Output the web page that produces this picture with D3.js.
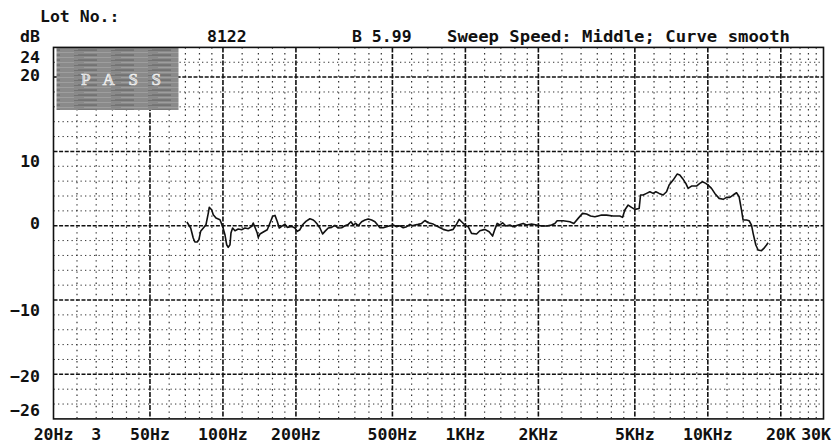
<!DOCTYPE html>
<html>
<head>
<meta charset="utf-8">
<script src="https://cdn.jsdelivr.net/npm/d3@7/dist/d3.min.js"></script>
<style>
  html, body { margin: 0; padding: 0; background: #fff; }
  svg { display: block; }
  text { font-family: "DejaVu Sans Mono", "Liberation Mono", monospace; font-weight: bold; fill: #111; }
</style>
</head>
<body>
<svg id="chart" width="834" height="443"></svg>
<script>
// ---------- data ----------
const freqHz = [71,73.6,75.4,76.6,78.3,79.6,80.9,83,85.1,87,87.8,89.8,91.2,93.6,97.2,99.7,101.9,103.6,105.1,106.9,107.9,109.6,112.1,115.6,119.4,123.2,127.2,131.3,133.3,135.9,138.5,139.8,142.1,146.7,152.3,156.3,160.3,163.9,167.5,170.7,174.6,180.2,184.1,192,198.1,202.5,207.7,213.1,219.9,228.4,234.4,239.6,244.8,251.2,257.7,263.4,271.8,280.7,289.6,298.8,308.7,318.5,328.6,337.2,344.6,352.6,361.4,373.3,385.2,397.4,410.5,423.6,434.6,444.2,458.2,473.2,488.3,503.8,520.4,537,554.1,572.3,590.5,603.5,619.1,638.8,659.9,680.8,702.5,736.6,772.4,809.9,849.2,890.6,919.7,942.7,964.4,995.2,1027,1060,1112,1148,1203,1253,1295,1323,1353,1388,1424,1469,1526,1574,1651,1731,1788,1875,1966,2062,2162,2267,2339,2390,2531,2697,2802,2918,3043,3161,3283,3420,3529,3645,3821,4068,4336,4448,4547,4692,4845,5000,5209,5278,5411,5588,5766,5949,6103,6297,6540,6756,6924,7192,7470,7663,7862,8114,8293,8566,8982,9268,9508,9810,10028,10356,10686,11133,11564,11943,12323,12716,13132,13460,13770,13981,14442,14803,15144,15376,15774,16123,16651,17020,17458,17727];
const levelDb = [0.5,-0.31,-1.66,-2.2,-2.2,-1.88,-0.76,-0.31,0.13,1.7,2.47,2.15,1.48,1.03,0.81,-0.09,-1.21,-2.56,-2.91,-2.56,-0.99,-0.31,-0.67,-0.45,-0.54,-0.31,-0.4,-0.09,0.36,-0.31,-0.99,-1.57,-1.12,-0.85,-0.54,0.36,1.26,1.39,0.58,-0.31,-0.09,0.22,-0.22,-0.09,-0.31,-0.76,-0.54,0.13,0.58,0.94,0.81,0.58,0.22,-0.31,-1.12,-0.76,-0.31,-0.22,0.04,-0.31,-0.27,0,0.18,0.54,0.09,0.31,0,0.54,0.76,0.9,0.76,0.54,0.09,-0.27,-0.27,-0.13,0,0.09,-0.13,0,-0.27,-0.13,0.18,0,0.09,0.18,0.31,0.7,0.4,0.22,-0.13,-0.49,-0.67,-0.49,0.22,0.85,0.54,0.09,-0.13,-1.03,-1.12,-0.67,-0.49,-0.81,-1.39,-0.49,0.31,0.09,0.4,-0.04,0.09,-0.13,0.09,0.31,0.09,0.22,0.09,-0.04,-0.04,0.09,0.31,0.67,0.67,0.54,0.31,0.99,1.66,1.57,1.3,1.21,1.3,1.43,1.43,1.3,1.3,1.12,2.11,2.78,2.47,2.2,2.33,4.13,4.13,4.35,4.57,4.35,4.57,4.35,4.13,4.57,5.47,6.14,6.95,6.82,6.37,5.7,5.02,5.34,5.34,5.7,5.92,5.7,5.47,5.02,4.35,3.68,3.55,3.81,3.81,4.13,4.44,3.9,2.11,0.76,0.76,0.67,0.09,-1.03,-2.6,-3.27,-3.36,-3.05,-2.6,-2.29];

const freqMajor = [50,100,200,500,1000,2000,5000,10000,20000];
const freqMinor = [25,30,35,40,45,60,70,80,90,120,140,160,180,250,300,350,400,450,600,700,800,900,1200,1400,1600,1800,2500,3000,3500,4000,4500,6000,7000,8000,9000,12000,14000,16000,18000,22000,24000,26000,28000];
const freqLabelValues = [20,30,50,100,200,500,1000,2000,5000,10000,20000,30000];
const freqLabelTexts = ["20Hz","3","50Hz","100Hz","200Hz","500Hz","1KHz","2KHz","5KHz","10KHz","20K","30K"];

const dbMajor = [20,10,0,-10,-20];
const dbMinor = [22,18,16,14,12,8,6,4,2,-2,-4,-6,-8,-12,-14,-16,-18,-22,-24];
const dbLabelValues = [24,20,10,0,-10,-20,-26];

const headerLot = "Lot No.:";
const headerUnit = "dB";
const headerSerial = "8122";
const headerModel = "B 5.99";
const headerInfo = "Sweep Speed: Middle; Curve smooth";
const stampText = "PASS";

// ---------- layout / style ----------
const W = 834, H = 443;
const plot = { left: 53.5, right: 823.5, top: 47.4, bottom: 418.9 };
const dbLabelNudge = { "24": 10, "20": -2, "10": 10, "0": -2, "-10": 10, "-20": 2, "-26": -8 };

const svg = d3.select("#chart");
const x = d3.scaleLog().domain([20, 30000]).range([plot.left, plot.right]);
const y = d3.scaleLinear().domain([-26, 24]).range([plot.bottom, plot.top]);

const grid = svg.append("g");

// minor horizontal
grid.selectAll("line.hmin").data(dbMinor).join("line")
  .attr("x1", plot.left).attr("x2", plot.right)
  .attr("y1", d => y(d)).attr("y2", d => y(d))
  .attr("stroke", "#333").attr("stroke-width", 1)
  .attr("stroke-dasharray", "1.3,3.2");

// minor vertical
grid.selectAll("line.vmin").data(freqMinor).join("line")
  .attr("x1", d => x(d)).attr("x2", d => x(d))
  .attr("y1", plot.top).attr("y2", plot.bottom)
  .attr("stroke", "#333").attr("stroke-width", 1.2)
  .attr("stroke-dasharray", "1.4,4.2");

// major horizontal
grid.selectAll("line.hmaj").data(dbMajor).join("line")
  .attr("x1", plot.left).attr("x2", plot.right)
  .attr("y1", d => y(d)).attr("y2", d => y(d))
  .attr("stroke", "#111").attr("stroke-width", 1.5)
  .attr("stroke-dasharray", "4,1.6");

// major vertical
grid.selectAll("line.vmaj").data(freqMajor).join("line")
  .attr("x1", d => x(d)).attr("x2", d => x(d))
  .attr("y1", plot.top).attr("y2", plot.bottom)
  .attr("stroke", "#111").attr("stroke-width", 1.6)
  .attr("stroke-dasharray", "5,1.5");

// PASS stamp
const defs = svg.append("defs");
const pat = defs.append("pattern").attr("id", "streak")
  .attr("patternUnits", "userSpaceOnUse").attr("width", 37).attr("height", 5);
pat.append("rect").attr("width", 37).attr("height", 5).attr("fill", "#8a8a8a");
pat.append("rect").attr("y", 0).attr("width", 23).attr("height", 1).attr("fill", "#737373");
pat.append("rect").attr("x", 10).attr("y", 2).attr("width", 27).attr("height", 1).attr("fill", "#9e9e9e");
pat.append("rect").attr("x", 4).attr("y", 4).attr("width", 19).attr("height", 1).attr("fill", "#777");

svg.append("rect")
  .attr("x", plot.left + 3).attr("y", plot.top + 0.6)
  .attr("width", 122).attr("height", 62)
  .attr("fill", "url(#streak)");
svg.append("text")
  .attr("x", 81).attr("y", 85)
  .attr("textLength", 80).attr("lengthAdjust", "spacing")
  .style("font-family", "'Liberation Serif', serif")
  .style("font-weight", "normal")
  .style("font-size", "17px")
  .style("fill", "#bdbdbd")
  .style("stroke", "#f2f2f2").style("stroke-width", 0.7)
  .text(stampText);

// border
svg.append("rect")
  .attr("x", plot.left).attr("y", plot.top)
  .attr("width", plot.right - plot.left).attr("height", plot.bottom - plot.top)
  .attr("fill", "none").attr("stroke", "#111").attr("stroke-width", 1.6);

// curve
const pts = freqHz.map((f, i) => [f, levelDb[i]]);
svg.append("path")
  .datum(pts)
  .attr("fill", "none").attr("stroke", "#111").attr("stroke-width", 1.6)
  .attr("stroke-linejoin", "round")
  .attr("d", d3.line().x(d => x(d[0])).y(d => y(d[1])));

// y labels
svg.selectAll("text.ylab").data(dbLabelValues).join("text")
  .attr("x", 40).attr("y", d => y(d) + dbLabelNudge[String(d)])
  .attr("text-anchor", "end").attr("dominant-baseline", "central")
  .style("font-size", "16.5px")
  .text(d => d < 0 ? "\u2212" + Math.abs(d) : String(d));

// x labels
svg.selectAll("text.xlab").data(freqLabelValues).join("text")
  .each(function(d, i) {
    const t = d3.select(this);
    const px = x(d);
    const txt = freqLabelTexts[i];
    const halfW = txt.length * 10 / 2;
    if (px + halfW > W - 3) {
      t.attr("x", W - 3).attr("text-anchor", "end");
    } else if (px - halfW < 3) {
      t.attr("x", px - 3).attr("text-anchor", "middle");
    } else {
      t.attr("x", px).attr("text-anchor", "middle");
    }
    t.attr("y", 440).style("font-size", "16.5px").text(txt);
  });

// header
svg.append("text").attr("x", 40).attr("y", 22).style("font-size", "16.5px").text(headerLot);
svg.append("text").attr("x", 20).attr("y", 42).style("font-size", "16.5px").text(headerUnit);
svg.append("text").attr("x", 207).attr("y", 42).style("font-size", "16.5px").text(headerSerial);
svg.append("text").attr("x", 352).attr("y", 42).style("font-size", "16.5px").text(headerModel);
svg.append("text").attr("x", 447).attr("y", 42).style("font-size", "16.5px")
  .attr("textLength", 343).attr("lengthAdjust", "spacingAndGlyphs").text(headerInfo);
</script>
</body>
</html>
